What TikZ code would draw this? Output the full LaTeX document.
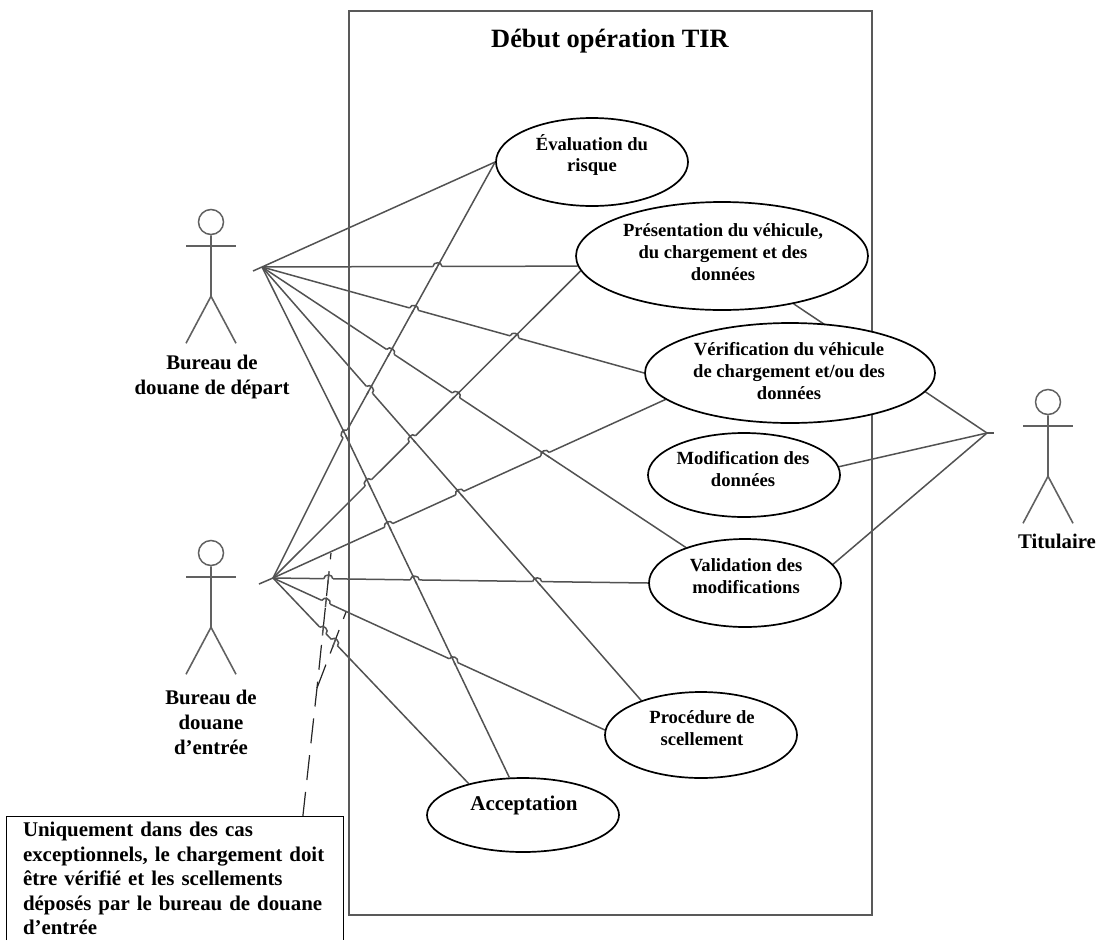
\documentclass[tikz,border=0pt]{standalone}
\usepackage{fontspec}
\setmainfont{Liberation Serif}
\usetikzlibrary{backgrounds,calc,positioning,shapes.geometric}
\tikzset{
  wire/.style={draw=black!68,line width=1.5pt},
  actorline/.style={draw=black!62,line width=1.6pt},
  usecase/.style={ellipse,draw=black,line width=1.7pt,fill=white,inner sep=0pt},
  casetext/.style={font=\bfseries\fontsize{18.6}{21.7}\selectfont,align=center,inner sep=0pt},
  actortext/.style={font=\bfseries\fontsize{20.8}{25}\selectfont,align=center,inner sep=0pt},
  dashline/.style={draw=black!85,line width=1.2pt,dash pattern=on 25pt off 12pt}
}
\newcommand{\hop}[4]{
  \coordinate (h) at (intersection of #1--#2 and #3--#4);
  \coordinate (hp) at ($(h)!4.5pt!(#1)$);
  \coordinate (hq) at ($(h)!-4.5pt!(#1)$);
  \draw[white,line width=2.8pt] (hp) -- (hq);
  \draw[wire] ($(h)!5pt!(#3)$) -- ($(h)!-5pt!(#3)$);
  \draw[wire] (hp) .. controls ($(hp)!5pt!90:(hq)$) and ($(hq)!5pt!-90:(hp)$) .. (hq);
}
\begin{document}
\begin{tikzpicture}[x=1pt,y=-1pt]
\useasboundingbox (0,0) rectangle (1099,940);
\node[draw=black!65,line width=2.2pt,minimum width=523pt,minimum height=904pt,inner sep=0pt] (sys) at (610.5,463) {};
\node[font=\bfseries\fontsize{26.4}{30}\selectfont,inner sep=0pt] (title) at (610,41) {Début opération TIR};

\node[usecase,minimum width=192pt,minimum height=88pt] (eval) at (592,162) {};
\node[usecase,minimum width=292pt,minimum height=108pt] (pres) at (722,256) {};
\node[usecase,minimum width=290pt,minimum height=100pt] (verif) at (790,373) {};
\node[usecase,minimum width=192pt,minimum height=84pt] (modif) at (744,475) {};
\node[usecase,minimum width=192pt,minimum height=88pt] (valid) at (745,583) {};
\node[usecase,minimum width=192pt,minimum height=86pt] (proc) at (701,735) {};
\node[usecase,minimum width=192pt,minimum height=74pt] (acc) at (523,815) {};

\node[casetext] (evaltext) at ($(eval)+(0,-7)$) {Évaluation du\\risque};
\node[casetext] (prestext) at ($(pres)+(1,-4)$) {Présentation du véhicule,\\du chargement et des\\données};
\node[casetext] (veriftext) at ($(verif)+(-1,-2)$) {Vérification du véhicule\\de chargement et/ou des\\données};
\node[casetext] (modiftext) at ($(modif)+(-1,-6)$) {Modification des\\données};
\node[casetext] (validtext) at ($(valid)+(1,-7)$) {Validation des\\modifications};
\node[casetext] (proctext) at ($(proc)+(1,-7)$) {Procédure de\\scellement};
\node[casetext,font=\bfseries\fontsize{21}{24}\selectfont] (acctext) at ($(acc)+(1,-10)$) {Acceptation};

\foreach \n/\x/\y in {dep/211/222,ent/211/553,tit/1048/402}{
  \node[circle,draw=black!62,line width=1.5pt,minimum size=25pt,inner sep=0pt] (head\n) at (\x,\y) {};
  \draw[actorline] (head\n.south) -- ++(0,61) coordinate (hip\n) -- ++(-25,47);
  \draw[actorline] (hip\n) -- ++(25,47);
  \draw[actorline,line width=2pt] ($(head\n)+(-25,24)$) -- ($(head\n)+(25,24)$);
}
\node[actortext] (deptext) at (212,377) {Bureau de\\douane de départ};
\node[actortext] (enttext) at (211,722) {Bureau de\\douane\\d’entrée};
\node[actortext] (tittext) at (1057,541) {Titulaire};

\coordinate (dep) at (262,267);
\coordinate (ent) at (273,578);
\coordinate (tit) at (987,433);
\coordinate (cross) at (345,434);
\coordinate (d1) at (eval.west);
\coordinate (d2) at (pres.184);
\coordinate (d3) at (verif.west);
\coordinate (d4) at (valid.149);
\coordinate (d5) at (proc.150);
\coordinate (d6) at (acc.110);
\coordinate (e1) at (eval.west);
\coordinate (e2) at (pres.186);
\coordinate (e3) at (verif.192);
\coordinate (e4) at (valid.west);
\coordinate (e5) at (proc.177);
\coordinate (e6) at (acc.150);

\node[font=\bfseries\fontsize{20.9}{24.5}\selectfont,align=left,inner sep=0pt,
  minimum width=336pt,minimum height=123pt,text width=304pt] (note) at (175,878.5)
  {Uniquement dans des cas\\exceptionnels, le chargement doit\\être vérifié et les scellements\\déposés par le bureau de douane\\d’entrée};
\draw[line width=1.2pt] (note.south west) -- (note.north west) -- (note.north east) -- (note.south east);
\coordinate (nt) at ($(note.north west)+(296,0)$);
\coordinate (fork) at (317,688);
\coordinate (pa) at (331,553);
\coordinate (pb) at (346,612);

\begin{scope}[on background layer]
\draw[dashline] (nt) -- (fork) -- (pa);
\draw[dashline] (fork) -- (pb);
\foreach \i in {1,...,5}
  \draw[wire] (dep) -- (d\i);
\draw[wire] (dep) -- (cross) -- (d6);
\draw[wire] (ent) -- (cross) -- (e1);
\foreach \i in {2,...,6}
  \draw[wire] (ent) -- (e\i);
\draw[wire] (dep) -- ++(-9,4);
\draw[wire] (ent) -- ++(-14,6);
\draw[wire] (tit) -- ++(7,0);
\draw[wire] (tit) -- (pres);
\draw[wire] (tit) -- (modif.5);
\draw[wire] (tit) -- (valid.12);
\foreach \a/\b/\c/\d in {dep/d2/cross/e1,dep/d3/cross/e1,dep/d4/cross/e1,dep/d5/cross/e1,
  ent/cross/dep/cross,dep/d3/ent/e2,dep/d4/ent/e2,ent/e2/dep/d5,ent/e2/cross/d6,
  ent/e3/dep/d4,ent/e3/dep/d5,ent/e3/cross/d6,ent/e4/cross/d6,ent/e4/dep/d5,ent/e4/fork/pa,
  ent/e5/fork/pa,ent/e5/cross/d6,ent/e6/fork/pa,ent/e6/fork/pb}
  \hop{\a}{\b}{\c}{\d};
\end{scope}
\end{tikzpicture}
\end{document}
